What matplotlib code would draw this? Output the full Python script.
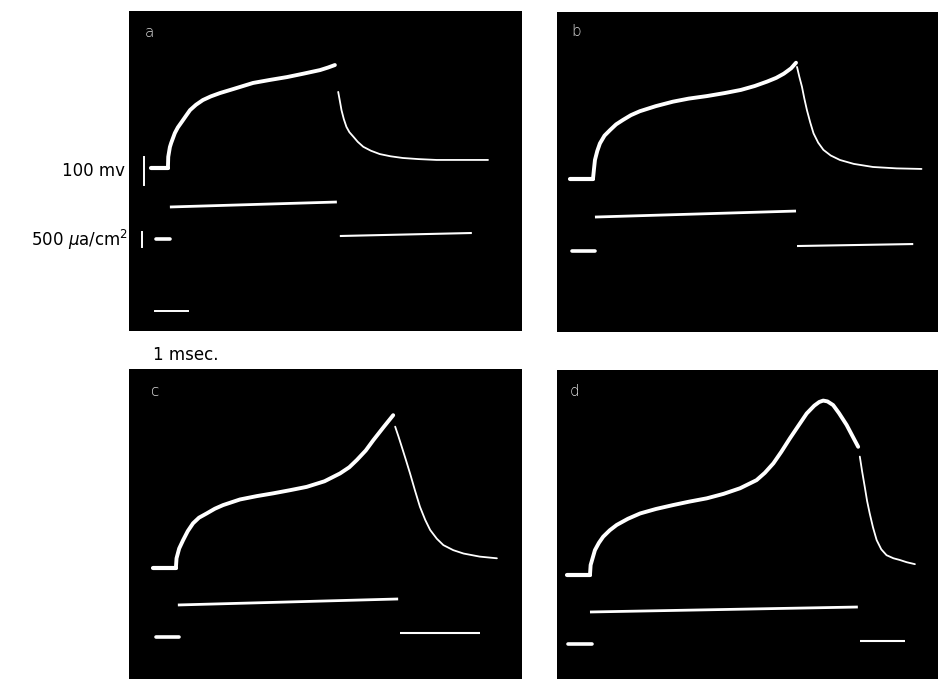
import matplotlib.pyplot as plt

# oscilloscope traces, t in msec from start of the pulse, v in mv from rest,
# i in ua/cm2 from zero current
# panel a
a_t_rise=[0,0.01,0.06,0.1,0.21,0.3,0.42,0.55,0.67,0.85,1.06,1.3,1.58,2.0,2.58,3.1,3.61,4.1,4.61,4.85,5.06]
a_v_rise=[0,40,75,90,125,145,165,187,207,226,243,256,268,283,304,315,325,337,350,359,368]
a_t_fall=[5.16,5.21,5.26,5.33,5.41,5.5,5.62,5.75,5.92,6.15,6.42,6.75,7.12,7.6,8.14,9.70]
a_v_fall=[272,240,207,175,147,128,112,94,76,62,50,42,36,32,29,29]
a_t_on=[0.06,5.12]
a_i_on=[1067,1233]
a_t_off=[5.21,9.21]
a_i_off=[100,200]
a_t_vrest=[-0.5,0]
a_t_irest=[-0.36,0.06]

# panel b
b_t_rise=[0,0.03,0.06,0.13,0.21,0.35,0.52,0.7,0.91,1.15,1.42,1.9,2.42,2.9,3.45,4.0,4.48,4.9,5.28,5.55,5.78,6.0,6.15]
b_v_rise=[0,35,68,100,127,155,175,195,211,228,242,260,276,287,296,307,318,332,348,361,376,395,415]
b_t_fall=[6.18,6.25,6.33,6.40,6.48,6.58,6.68,6.82,6.98,7.2,7.48,7.9,8.48,9.2,9.95]
b_v_fall=[400,365,329,288,246,202,163,130,104,84,68,54,43,38,36]
b_t_on=[0.06,6.15]
b_i_on=[1133,1333]
b_t_off=[6.18,9.7]
b_i_off=[167,233]
b_t_vrest=[-0.70,0]
b_t_irest=[-0.64,0.06]

# panel c
c_t_rise=[0,0.02,0.1,0.22,0.36,0.52,0.7,0.93,1.18,1.43,1.94,2.45,2.95,3.45,3.96,4.5,4.97,5.25,5.48,5.75,5.98,6.3,6.58]
c_v_rise=[0,35,70,100,132,160,180,195,212,225,245,257,267,278,290,310,338,360,386,420,457,505,546]
c_t_fall=[6.64,6.74,6.84,6.96,7.09,7.24,7.39,7.55,7.70,7.9,8.10,8.4,8.71,9.2,9.72]
c_v_fall=[505,470,433,388,338,277,219,172,136,105,82,64,52,41,35]
c_t_on=[0.06,6.73]
c_i_on=[1067,1267]
c_t_off=[6.79,9.21]
c_i_off=[133,133]
c_t_vrest=[-0.70,0]
c_t_irest=[-0.61,0.09]

# panel d
d_t_rise=[0,0.02,0.15,0.27,0.40,0.6,0.81,1.15,1.52,2.0,2.52,3.0,3.54,4.05,4.55,5.05,5.3,5.56,5.8,6.06,6.3,6.57,6.8,6.95,7.07,7.2,7.37,7.55,7.78,7.95,8.13]
d_v_rise=[0,36,89,115,137,160,179,201,220,236,250,262,274,290,310,339,365,399,440,488,530,577,605,618,623,620,607,578,536,498,458]
d_t_fall=[8.18,8.25,8.33,8.40,8.48,8.58,8.69,8.83,8.99,9.2,9.39,9.6,9.85]
d_v_fall=[423,370,315,265,220,170,125,92,71,60,54,46,39]
d_t_on=[0.0,8.12]
d_i_on=[1067,1233]
d_t_off=[8.18,9.55]
d_i_off=[100,100]
d_t_vrest=[-0.70,0]
d_t_irest=[-0.67,0.06]

labels=['a','b','c','d']

# calibration marks drawn in panel a
cal_mv=[-61,39]        # 100 mv
cal_ua=[-267,233]      # 500 ua/cm2
cal_ms=[-0.39,0.61]    # 1 msec

fig=plt.figure(figsize=(9.38,6.79),dpi=100)
fig.patch.set_facecolor('white')

# [left,bottom,width,height], xlim, v ylim, i ylim, label pos
layout=[
    ([0.1375,0.5125,0.419,0.4713],(-1.18,10.73),(-582,561),(-3067,7600),(0.053,0.934)),
    ([0.5938,0.511,0.4062,0.4713],(-1.09,10.45),(-546,596),(-2700,7967),(0.05,0.94)),
    ([0.1375,0.0,0.419,0.4566],(-1.42,10.48),(-396,711),(-1400,8933),(0.066,0.926)),
    ([0.5938,0.0,0.4062,0.455],(-1.0,10.55),(-371,732),(-1167,9133),(0.045,0.932)),
]
traces=[
    (a_t_rise,a_v_rise,a_t_fall,a_v_fall,a_t_on,a_i_on,a_t_off,a_i_off,a_t_vrest,a_t_irest),
    (b_t_rise,b_v_rise,b_t_fall,b_v_fall,b_t_on,b_i_on,b_t_off,b_i_off,b_t_vrest,b_t_irest),
    (c_t_rise,c_v_rise,c_t_fall,c_v_fall,c_t_on,c_i_on,c_t_off,c_i_off,c_t_vrest,c_t_irest),
    (d_t_rise,d_v_rise,d_t_fall,d_v_fall,d_t_on,d_i_on,d_t_off,d_i_off,d_t_vrest,d_t_irest),
]

axes=[]
for k,(pos,xl,vl,il,lpos) in enumerate(layout):
    t_r,v_r,t_f,v_f,t_on,i_on,t_off,i_off,t_vr,t_ir=traces[k]
    ax=fig.add_axes(pos)
    ax.set_facecolor('black')
    ax.set_xlim(*xl)
    ax.set_ylim(*vl)
    ax2=ax.twinx()
    ax2.set_ylim(*il)
    for a_ in (ax,ax2):
        a_.set_xticks([])
        a_.set_yticks([])
        for s in a_.spines.values():
            s.set_visible(False)
    # voltage
    ax.plot(t_vr,[0,0],color='white',lw=3,solid_capstyle='round')
    ax.plot(t_r,v_r,color='white',lw=2.8,solid_capstyle='round',solid_joinstyle='round')
    ax.plot(t_f,v_f,color='white',lw=1.3,solid_capstyle='round',solid_joinstyle='round')
    # current
    ax2.plot(t_ir,[0,0],color='white',lw=2.6,solid_capstyle='round')
    ax2.plot(t_on,i_on,color='white',lw=2.0,solid_capstyle='butt')
    ax2.plot(t_off,i_off,color='white',lw=1.5,solid_capstyle='butt')
    ax.text(lpos[0],lpos[1],labels[k],transform=ax.transAxes,color='#dddddd',
            fontsize=11,ha='center',va='center',fontweight='light')
    axes.append((ax,ax2))

# calibrations in panel a
ax,ax2=axes[0]
ax.plot([-0.73,-0.73],cal_mv,color='white',lw=1.4)
ax2.plot([-0.79,-0.79],cal_ua,color='white',lw=1.4)
ax.plot(cal_ms,[-511,-511],color='white',lw=1.4)

fig.text(125/938,1-171/679,'100 mv',ha='right',va='center',fontsize=12,color='black')
fig.text(128/938,1-240/679,'500 $\\mu$a/cm$^2$',ha='right',va='center',fontsize=12,color='black')
fig.text(153/938,1-355/679,'1 msec.',ha='left',va='center',fontsize=12,color='black')

fig.savefig('out.png',dpi=100,facecolor='white')
